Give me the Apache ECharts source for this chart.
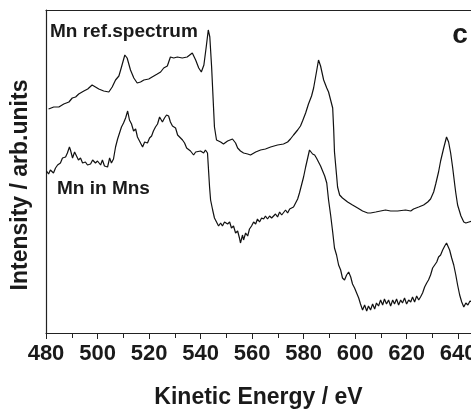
<!DOCTYPE html>
<html>
<head>
<meta charset="utf-8">
<script src="https://cdn.jsdelivr.net/npm/echarts@6/dist/echarts.min.js"></script>
<style>html,body{margin:0;padding:0;background:#fff;}#c{width:471px;height:410px;}</style>
</head>
<body>
<div id="c"></div>
<script>
// Kinetic energy (eV) / intensity (arb. units)
var refEnergy = [481.0,483.0,485.0,486.9,488.9,490.2,491.5,492.7,494.7,496.2,497.9,499.2,500.5,502.4,504.4,505.7,507.0,508.3,509.2,510.6,511.5,512.8,514.1,515.4,516.7,518.0,519.9,521.2,523.2,524.5,525.7,527.1,528.3,529.6,531.0,532.9,534.8,536.8,538.1,539.3,540.3,541.3,542.2,543.0,543.6,544.3,544.9,545.4,546.2,547.8,548.9,550.5,552.4,553.6,554.4,555.5,556.7,558.3,559.4,561.4,563.3,565.2,567.2,569.9,572.2,573.8,574.9,576.1,577.7,578.8,579.6,580.8,581.9,583.1,583.9,585.0,585.8,586.6,587.8,589.0,589.7,590.5,591.3,591.7,592.0,592.8,593.2,594.0,595.1,597.1,599.0,601.0,602.9,604.9,606.0,608.0,609.9,611.8,613.8,616.5,619.6,621.6,622.7,624.7,626.6,628.2,629.3,630.5,631.3,632.4,633.2,634.4,635.5,636.3,637.1,637.9,638.7,639.1,639.8,641.1,642.2,643.0,644.2,645.4];
var refIntensity = [224,226,226,229,231,235,236,239,242,244,248,246,244,242,241,246,253,257,265,278,275,263,255,250,251,253,254,256,259,261,265,267,276,275,276,275,276,280,273,265,261,268,286,303,296,266,233,206,193,191,189,192,194,190,185,182,180,179,178,181,183,184,186,188,189,191,194,198,203,207,212,220,229,237,245,261,273,267,253,245,241,233,225,203,181,158,146,138,135,131,128,125,122,120,120,121,122,123,122,122,123,122,124,126,128,131,134,141,149,161,172,185,196,191,180,165,148,140,128,117,111,110,111,112];

var mnsEnergy = [480.2,481.0,481.7,482.9,483.7,484.5,485.6,486.4,487.6,488.3,489.1,489.5,490.3,491.1,491.8,492.6,493.4,494.2,495.3,496.1,497.3,498.1,499.2,500.0,501.2,501.9,502.7,503.9,504.7,505.4,506.2,507.0,507.8,508.5,509.3,510.1,510.9,511.7,512.4,513.2,514.0,514.8,515.5,516.3,517.5,518.3,519.4,520.2,521.0,521.7,522.5,523.3,524.1,524.5,525.2,526.0,526.8,527.6,528.3,529.1,530.3,531.1,531.8,533.0,533.8,534.6,535.3,536.1,537.3,538.1,538.8,540.0,541.2,541.9,542.7,543.1,543.5,543.9,544.7,545.4,546.2,547.0,547.8,548.5,549.3,550.5,551.3,552.0,552.8,553.6,554.4,555.1,555.5,556.3,556.7,557.5,558.3,559.0,559.8,560.6,561.4,562.1,562.9,563.7,564.5,565.2,566.0,566.8,567.6,568.3,569.1,569.9,570.7,571.5,572.2,573.0,573.8,574.6,575.3,576.1,576.9,577.7,578.4,579.2,580.0,580.8,581.6,582.3,582.7,583.5,584.3,585.0,585.8,586.6,587.4,588.2,589.0,589.7,590.5,591.3,592.0,592.8,593.6,594.4,595.1,595.9,596.7,597.5,598.3,599.0,599.8,600.6,601.4,602.1,602.9,603.7,604.5,605.2,606.0,606.8,607.6,608.3,609.1,609.9,610.7,611.4,612.2,613.0,613.8,614.6,615.3,616.1,616.9,617.7,618.4,619.2,620.0,620.8,621.6,622.3,623.1,623.9,624.7,625.4,626.2,627.0,627.8,628.5,629.3,630.1,630.9,631.7,632.4,633.2,634.0,634.8,635.5,635.9,636.7,637.5,638.3,639.1,639.8,640.6,641.4,642.2,643.0,643.8,644.6,645.4];
var mnsIntensity = [162,159,163,160,165,168,170,175,176,180,186,183,175,181,182,173,175,170,171,168,169,173,170,172,168,173,167,166,175,170,174,186,194,196,206,210,215,222,213,209,202,204,196,192,186,191,190,195,197,202,206,209,216,218,211,215,218,217,211,207,205,198,200,193,190,185,183,182,178,181,180,182,180,183,180,163,146,133,123,115,111,107,110,107,111,109,111,105,107,100,102,95,90,98,93,100,97,104,107,111,109,114,111,115,114,117,114,117,115,117,119,116,121,118,120,123,120,124,122,126,130,134,140,148,156,166,175,183,185,179,178,175,171,167,162,157,150,133,118,101,85,78,68,63,55,53,58,61,56,49,45,40,35,29,23,28,22,27,23,29,24,30,27,33,28,34,29,33,27,33,29,34,28,33,30,35,29,33,31,36,31,37,33,36,40,46,50,53,58,65,68,71,76,78,83,87,90,89,83,75,68,58,48,38,31,26,30,28,32,31];

var xTicks = [480,500,520,540,560,580,600,620,640];

function pairs(xs, ys){ var out=[]; for(var i=0;i<xs.length;i++){ out.push([xs[i], ys[i]]); } return out; }

var chart = echarts.init(document.getElementById('c'), null, {renderer:'canvas'});
var FONT = 'Liberation Sans, Arial, Helvetica, sans-serif';
chart.setOption({
  animation:false,
  backgroundColor:'#ffffff',
  grid:{left:46, right:0, top:10, bottom:77, containLabel:false, outerBoundsMode:'none'},
  xAxis:[{
    type:'value', min:xTicks[0], max:645, interval:20, position:'bottom',
    name:'Kinetic Energy / eV', nameLocation:'middle', nameGap:53,
    nameTextStyle:{fontFamily:FONT, fontWeight:'bold', fontSize:23, color:'#1a1a1a'},
    axisLine:{show:true, onZero:false, lineStyle:{color:'#222', width:1.2}},
    axisTick:{show:true, inside:false, length:6, lineStyle:{color:'#222', width:1}},
    minorTick:{show:true, splitNumber:2, length:5, lineStyle:{color:'#222', width:1}},
    splitLine:{show:false},
    axisLabel:{show:true, margin:10, fontFamily:FONT, fontWeight:'bold', fontSize:22, color:'#1a1a1a', showMaxLabel:false,
      formatter:function(v){ return xTicks.indexOf(v) >= 0 ? String(v) : ''; }}
  },{
    type:'value', min:xTicks[0], max:645, position:'top',
    axisLine:{show:true, onZero:false, lineStyle:{color:'#222', width:1.2}},
    axisTick:{show:false}, axisLabel:{show:false}, splitLine:{show:false}
  }],
  yAxis:{
    type:'value', min:0, max:323,
    axisLine:{show:true, onZero:false, lineStyle:{color:'#222', width:1.2}},
    axisTick:{show:false}, axisLabel:{show:false}, splitLine:{show:false}
  },
  series:[{
    name:'Mn ref.spectrum', type:'line', xAxisIndex:0, data:pairs(refEnergy, refIntensity),
    showSymbol:false, symbol:'none', lineStyle:{color:'#111', width:1.2}
  },{
    name:'Mn in Mns', type:'line', xAxisIndex:0, data:pairs(mnsEnergy, mnsIntensity),
    showSymbol:false, symbol:'none', lineStyle:{color:'#111', width:1.2}
  }],
  graphic:[
    {type:'text', left:null, x:21, y:185, rotation:Math.PI/2,
     style:{text:'Intensity / arb.units', fontFamily:FONT, fontWeight:'bold', fontSize:23, fill:'#1a1a1a', align:'center', verticalAlign:'middle'}},
    {type:'text', x:50, y:32,
     style:{text:'Mn ref.spectrum', fontFamily:FONT, fontWeight:'bold', fontSize:19, fill:'#1a1a1a', align:'left', verticalAlign:'middle'}},
    {type:'text', x:57, y:188.5,
     style:{text:'Mn in Mns', fontFamily:FONT, fontWeight:'bold', fontSize:19, fill:'#1a1a1a', align:'left', verticalAlign:'middle'}},
    {type:'text', x:460, y:35,
     style:{text:'c', fontFamily:FONT, fontWeight:'bold', fontSize:28, fill:'#1a1a1a', align:'center', verticalAlign:'middle'}}
  ]
});
</script>
</body>
</html>
